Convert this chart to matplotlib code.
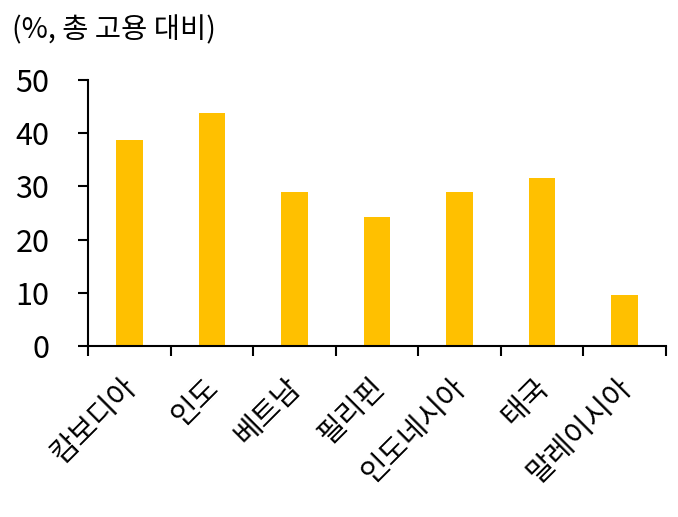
import numpy as np
import matplotlib
matplotlib.use("Agg")
import matplotlib.pyplot as plt
from matplotlib.ticker import FixedLocator, NullFormatter
import matplotlib.transforms as mtransforms

plt.rcParams['font.family'] = ['Noto Sans CJK KR', 'DejaVu Sans']

# 데이터
countries = ["캄보디아", "인도", "베트남", "필리핀", "인도네시아", "태국", "말레이시아"]
share = [38.8, 43.9, 29.0, 24.2, 28.9, 31.5, 9.6]
y_ticks = [0, 10, 20, 30, 40, 50]

fig = plt.figure(figsize=(6.78, 5.17), dpi=100)
ax = fig.add_axes([0.130, 0.331, 0.852, 0.514])

x = np.arange(len(countries))
ax.bar(x, share, width=0.32, color="#FFC000")

ax.set_xlim(-0.5, len(countries) - 0.5)
ax.set_ylim(0, 50)
ax.set_yticks(y_ticks)
ax.tick_params(axis='y', labelsize=22, length=7, width=1.5, direction='out', pad=21)

# 눈금은 경계에, 라벨은 가운데
ax.set_xticks(x)
ax.set_xticklabels(countries, rotation=45, ha='right', rotation_mode='anchor', fontsize=21)
ax.xaxis.set_minor_locator(FixedLocator(np.arange(-0.5, len(countries), 1.0)))
ax.xaxis.set_minor_formatter(NullFormatter())
ax.tick_params(axis='x', which='major', length=0, pad=19)
ax.tick_params(axis='x', which='minor', length=7, width=1.5, direction='out')

offset = mtransforms.ScaledTranslation(-0.08, 0, fig.dpi_scale_trans)
for lab in ax.get_xticklabels():
    lab.set_transform(lab.get_transform() + offset)

for s in ['top', 'right']:
    ax.spines[s].set_visible(False)
for s in ['left', 'bottom']:
    ax.spines[s].set_linewidth(1.5)

fig.text(0.018, 0.942, "(%, 총 고용 대비)", fontsize=20.5, ha='left', va='center')

fig.savefig("out.png", dpi=100)
